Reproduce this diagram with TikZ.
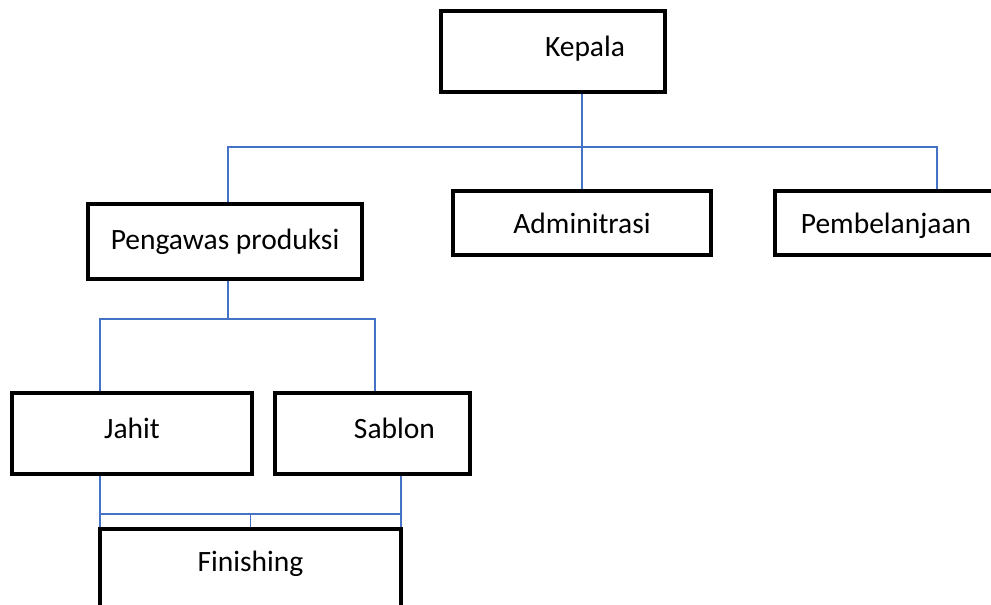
\documentclass[tikz,border=0pt]{standalone}
\usepackage{fontspec}
\setmainfont{Carlito}
\usepackage{xcolor}
\usepackage{tikz}
\usetikzlibrary{
	positioning,    % untuk penempatan node
	calc            % untuk menghitung koordinat cabang
}
\definecolor{garisbiru}{RGB}{68,114,196}

\begin{document}
\begin{tikzpicture}[x=1pt, y=-1pt, font=\fontsize{29.5}{35}\selectfont,
	kotak/.style={draw=black, line width=4pt, fill=white, inner sep=0pt},
	garis/.style={draw=garisbiru, line width=1.5pt}]
		% Ukuran gambar
		\def\lebar{991}
		\def\tinggi{605}
		\useasboundingbox (0,0) rectangle (\lebar,\tinggi);
		\clip (0,0) rectangle (\lebar,\tinggi);
		
		% --- Kotak jabatan ---
		% Baris atas
		\node[kotak, minimum width=224pt, minimum height=81pt,
			label={[xshift=32pt, yshift=3pt]center:Kepala}] (kepala) at (553,51.5) {};
		% Baris kedua
		\node[kotak, minimum width=274pt, minimum height=75pt] (pengawas) at (225,241.5) {Pengawas produksi};
		\node[kotak, minimum width=258pt, minimum height=64pt] (admin) at (582,223) {Adminitrasi};
		\node[kotak, minimum width=222pt, minimum height=64pt,
			label={[yshift=-3pt]center:Pembelanjaan}] (belanja) at (886,223) {};
		% Baris ketiga
		\node[kotak, minimum width=240pt, minimum height=81pt,
			label={[yshift=5pt]center:Jahit}] (jahit) at (132,433.5) {};
		\node[kotak, minimum width=195pt, minimum height=81pt,
			label={[xshift=22pt, yshift=5pt]center:Sablon}] (sablon) at (372.5,433.5) {};
		% Baris bawah (terpotong di tepi gambar)
		\node[kotak, minimum width=301pt, minimum height=80pt,
			label={[yshift=5pt]center:Finishing}] (finishing) at (250.5,569) {};
		
		% --- Titik cabang ---
		\coordinate (cabangAtas) at (581,147);
		\coordinate (cabangTengah) at ($(pengawas.south)+(0,38)$);
		\coordinate (jahitKeluar) at ([xshift=-32pt]jahit.south);
		\coordinate (sablonKeluar) at ([xshift=28.5pt]sablon.south);
		\coordinate (cabangBawah) at ($(finishing.north)+(0,-13)$);
		
		% --- Garis penghubung ---
		% Kepala ke baris kedua
		\draw[garis] (admin.north |- kepala.south) -- (admin.north);
		\draw[garis] ([xshift=3pt]pengawas.north) |- (cabangAtas) -| ([xshift=51pt]belanja.north);
		% Pengawas produksi ke Jahit dan Sablon
		\draw[garis] ([xshift=3pt]pengawas.south) -- ([xshift=3pt]cabangTengah);
		\draw[garis] ([xshift=-32pt]jahit.north) |- (cabangTengah) -| ([xshift=2.5pt]sablon.north);
		% Jahit dan Sablon ke Finishing
		\draw[garis] (jahitKeluar) -- ([xshift=-150.5pt]finishing.north);
		\draw[garis] (sablonKeluar) -- ([xshift=150.5pt]finishing.north);
		\draw[garis] (cabangBawah -| jahitKeluar) -- (cabangBawah -| sablonKeluar);
		\draw[garis] (cabangBawah) -- (finishing.north);
	\end{tikzpicture}
\end{document}
